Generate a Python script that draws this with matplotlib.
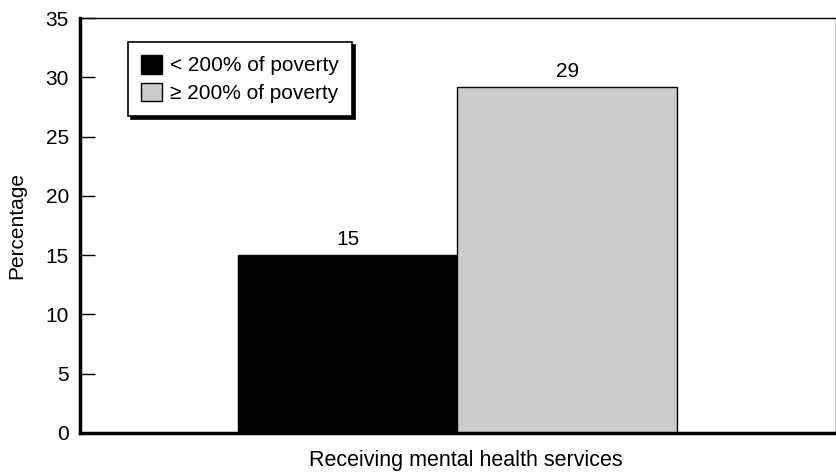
import matplotlib
matplotlib.use("Agg")
import matplotlib.pyplot as plt
from matplotlib.patches import Patch

plt.rcParams['font.family'] = ['Liberation Sans', 'DejaVu Sans']

groups = ["< 200% of poverty", "\u2265 200% of poverty"]
values = [15.0, 29.2]
value_labels = ["15", "29"]
colors = ["#000000", "#cccccc"]
xlabel = "Receiving mental health services"
ylabel = "Percentage"
yticks = [0, 5, 10, 15, 20, 25, 30, 35]

FS = 15

fig = plt.figure(figsize=(8.37, 4.74), dpi=100)
ax = fig.add_axes([80/837, 1-433/474, 756/837, 415/474])

positions = [0, 1]
bars = ax.bar(positions, values, width=1.0, color=colors, edgecolor="black", linewidth=1.0)
for b, lab in zip(bars, value_labels):
    ax.text(b.get_x() + b.get_width()/2, b.get_height() + 0.5, lab,
            ha="center", va="bottom", fontsize=FS)

ax.set_xlim(-1.218, 2.223)
ax.set_ylim(0, 35)
ax.set_yticks(yticks)
ax.set_yticklabels([str(t) for t in yticks], fontsize=FS)
ax.tick_params(axis="y", direction="in", length=11, width=1, pad=8)
ax.set_xticks([])
ax.set_xlabel(xlabel, fontsize=FS + 0.5, labelpad=12)
ax.xaxis.label.set_x(0.51)
ax.set_ylabel(ylabel, fontsize=FS, labelpad=14)

ax.spines["left"].set_linewidth(2.5)
ax.spines["bottom"].set_linewidth(2.5)
ax.spines["top"].set_linewidth(1)
ax.spines["right"].set_linewidth(1)

handles = [Patch(facecolor=c, edgecolor="black", linewidth=1) for c in colors]
leg = ax.legend(handles, groups, loc="upper left", bbox_to_anchor=(0.0635, 0.942),
                borderaxespad=0, fontsize=FS, fancybox=False, frameon=True,
                edgecolor="black", framealpha=1,
                shadow={"color": "black", "alpha": 1},
                handlelength=1.0, handleheight=1.0, handletextpad=0.4,
                labelspacing=0.35, borderpad=0.62)
leg.get_frame().set_linewidth(1.2)

fig.savefig("out.png", dpi=100)
